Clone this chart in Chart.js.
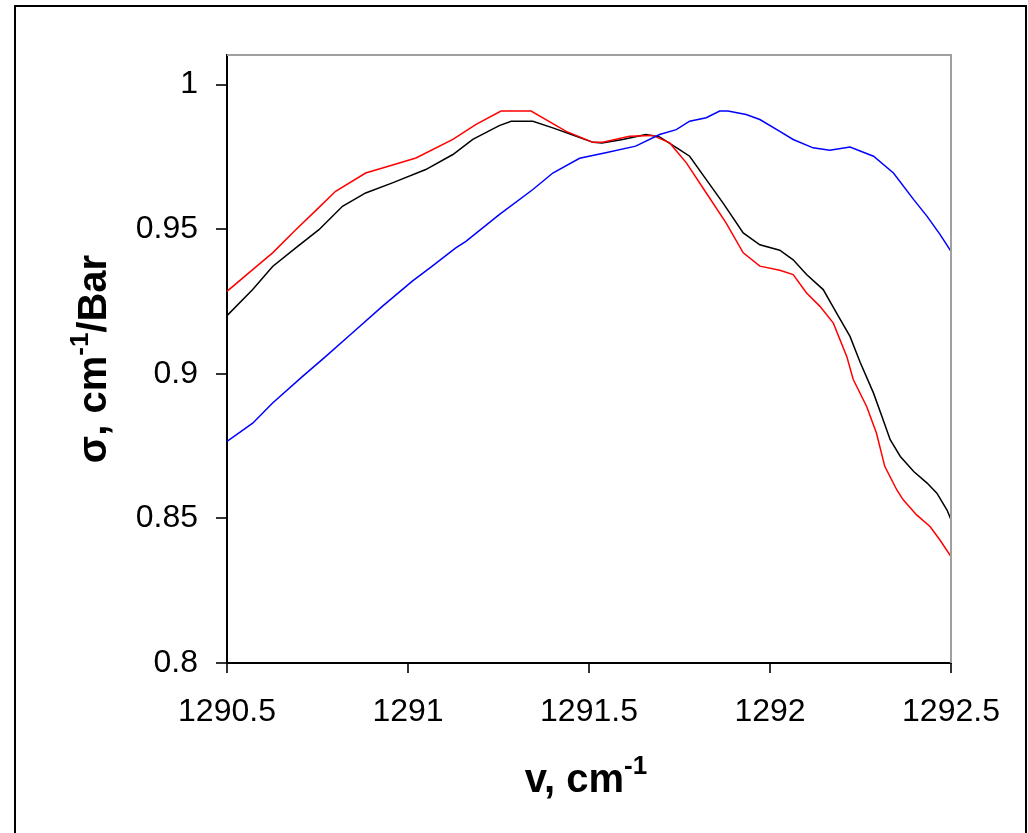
<!DOCTYPE html>
<html>
<head>
<meta charset="utf-8">
<script src="https://cdn.jsdelivr.net/npm/chart.js@4/dist/chart.umd.min.js"></script>
<style>
  html, body { margin: 0; padding: 0; background: #fff; }
  #wrap { width: 1028px; height: 833px; position: relative; }
</style>
</head>
<body>
<div id="wrap"><canvas id="c"></canvas></div>
<script>
// wavenumber axis (cm-1) and cross-section values
const redX = [1290.5, 1290.571, 1290.626, 1290.69, 1290.75, 1290.8, 1290.883, 1290.939, 1291.022, 1291.124,
  1291.188, 1291.257, 1291.34, 1291.437, 1291.511, 1291.538, 1291.612, 1291.676, 1291.723, 1291.769,
  1291.824, 1291.879, 1291.926, 1291.972, 1292.027, 1292.064, 1292.101, 1292.138, 1292.175, 1292.212,
  1292.23, 1292.267, 1292.294, 1292.317, 1292.35, 1292.368, 1292.405, 1292.442, 1292.469, 1292.5];
const redY = [0.9285, 0.936, 0.9418, 0.9498, 0.957, 0.9631, 0.9694, 0.9715, 0.9746, 0.981,
  0.9862, 0.9908, 0.9908, 0.9838, 0.980, 0.980, 0.9821, 0.9824, 0.9798, 0.9729,
  0.9625, 0.9521, 0.9418, 0.9372, 0.9358, 0.9343, 0.9279, 0.9233, 0.9175, 0.906,
  0.898, 0.8887, 0.8795, 0.868, 0.8599, 0.8564, 0.8512, 0.8472, 0.8426, 0.8368];

const blackX = [1290.5, 1290.571, 1290.626, 1290.69, 1290.754, 1290.819, 1290.883, 1290.957, 1291.049, 1291.124,
  1291.179, 1291.252, 1291.285, 1291.345, 1291.4, 1291.465, 1291.511, 1291.536, 1291.593, 1291.657,
  1291.695, 1291.75, 1291.778, 1291.824, 1291.87, 1291.926, 1291.972, 1292.027, 1292.064, 1292.101,
  1292.147, 1292.184, 1292.221, 1292.249, 1292.286, 1292.309, 1292.332, 1292.36, 1292.397, 1292.434,
  1292.461, 1292.489, 1292.5];
const blackY = [0.9201, 0.9291, 0.9371, 0.9435, 0.9498, 0.9579, 0.9625, 0.966, 0.9706, 0.9758,
  0.981, 0.9858, 0.9873, 0.9873, 0.985, 0.9821, 0.980, 0.9798, 0.981, 0.9827,
  0.9819, 0.9775, 0.9752, 0.9671, 0.9591, 0.9487, 0.9446, 0.9427, 0.9394, 0.9343,
  0.9291, 0.921, 0.9129, 0.904, 0.8933, 0.8853, 0.8772, 0.8714, 0.8662, 0.8622,
  0.8587, 0.8529, 0.8495];

const blueX = [1290.5, 1290.571, 1290.626, 1290.708, 1290.773, 1290.846, 1290.929, 1291.012, 1291.067, 1291.132,
  1291.16, 1291.252, 1291.345, 1291.4, 1291.474, 1291.546, 1291.629, 1291.695, 1291.741, 1291.778,
  1291.824, 1291.861, 1291.884, 1291.934, 1291.972, 1292.027, 1292.064, 1292.119, 1292.165, 1292.221,
  1292.286, 1292.341, 1292.397, 1292.434, 1292.47, 1292.5];
const blueY = [0.8766, 0.8829, 0.8899, 0.899, 0.906, 0.9141, 0.9233, 0.932, 0.9372, 0.9435,
  0.9458, 0.955, 0.9637, 0.9694, 0.9745, 0.9764, 0.9787, 0.9827, 0.9844, 0.9873,
  0.9885, 0.9908, 0.9908, 0.9896, 0.9879, 0.9838, 0.981, 0.9781, 0.9773, 0.9784,
  0.9752, 0.9694, 0.9602, 0.9544, 0.9481, 0.9423];

const xTicks = [1290.5, 1291, 1291.5, 1292, 1292.5];
const yTicks = [0.8, 0.85, 0.9, 0.95, 1];

const pts = (xs, ys) => xs.map((x, i) => ({ x, y: ys[i] }));

// text with a superscript part, drawn at (0,0) centred horizontally
const drawSup = (ctx, main, sup, tail, size, supSize) => {
  ctx.font = `bold ${size}px "Liberation Sans", Arial, sans-serif`;
  const w1 = ctx.measureText(main).width;
  const w3 = ctx.measureText(tail).width;
  ctx.font = `bold ${supSize}px "Liberation Sans", Arial, sans-serif`;
  const w2 = ctx.measureText(sup).width;
  let x = -(w1 + w2 + w3) / 2;
  ctx.textAlign = 'left';
  ctx.textBaseline = 'alphabetic';
  ctx.font = `bold ${size}px "Liberation Sans", Arial, sans-serif`;
  ctx.fillText(main, x, 0);
  x += w1;
  ctx.font = `bold ${supSize}px "Liberation Sans", Arial, sans-serif`;
  ctx.fillText(sup, x, -18);
  x += w2;
  ctx.font = `bold ${size}px "Liberation Sans", Arial, sans-serif`;
  ctx.fillText(tail, x, 0);
};

const decor = {
  id: 'decor',
  afterDraw(chart) {
    const { ctx, chartArea: a } = chart;
    ctx.save();
    // plot area frame, top and right
    ctx.strokeStyle = '#a0a0a0';
    ctx.lineWidth = 2;
    ctx.beginPath();
    ctx.moveTo(a.left, a.top);
    ctx.lineTo(a.right, a.top);
    ctx.lineTo(a.right, a.bottom);
    ctx.stroke();
    // outer frame
    ctx.strokeStyle = '#000';
    ctx.lineWidth = 2;
    ctx.beginPath();
    ctx.moveTo(15, 840);
    ctx.lineTo(15, 6);
    ctx.lineTo(1026, 6);
    ctx.lineTo(1026, 840);
    ctx.stroke();
    // axis titles
    ctx.fillStyle = '#000';
    const cx = (a.left + a.right) / 2;
    ctx.save();
    ctx.translate(cx - 3, 792);
    drawSup(ctx, 'v, cm', '-1', '', 40, 26);
    ctx.restore();
    ctx.save();
    ctx.translate(106, (a.top + a.bottom) / 2);
    ctx.rotate(-Math.PI / 2);
    drawSup(ctx, 'σ, cm', '-1', '/Bar', 40, 26);
    ctx.restore();
    ctx.restore();
  }
};

const tickFont = { family: '"Liberation Sans", Arial, sans-serif', size: 32 };

new Chart(document.getElementById('c'), {
  type: 'scatter',
  data: {
    datasets: [
      { data: pts(blueX, blueY), borderColor: '#0000ff' },
      { data: pts(redX, redY), borderColor: '#ff0000' },
      { data: pts(blackX, blackY), borderColor: '#000000' }
    ].map(d => ({ ...d, showLine: true, pointRadius: 0, borderWidth: 1.5, tension: 0, fill: false }))
  },
  options: {
    responsive: true,
    maintainAspectRatio: false,
    animation: false,
    layout: { padding: { left: 0, right: 77, top: 55, bottom: 0 } },
    plugins: { legend: { display: false }, tooltip: { enabled: false } },
    scales: {
      x: {
        type: 'linear',
        min: 1290.5,
        max: 1292.5,
        afterBuildTicks: s => { s.ticks = xTicks.map(v => ({ value: v })); },
        afterFit: s => { s.height = 170; },
        ticks: { font: tickFont, color: '#000', padding: 20, maxRotation: 0, callback: v => String(v) },
        grid: { drawOnChartArea: false, drawTicks: true, tickLength: 10, color: '#333', lineWidth: 2 },
        border: { display: true, color: '#000', width: 2 }
      },
      y: {
        min: 0.8,
        max: 1.0102,
        afterBuildTicks: s => { s.ticks = yTicks.map(v => ({ value: v })); },
        afterFit: s => { s.width = 227; },
        ticks: { font: tickFont, color: '#000', padding: 18, callback: v => String(+v.toFixed(2)) },
        grid: { drawOnChartArea: false, drawTicks: true, tickLength: 11, color: '#333', lineWidth: 2 },
        border: { display: true, color: '#000', width: 2 }
      }
    }
  },
  plugins: [decor]
});
</script>
</body>
</html>
